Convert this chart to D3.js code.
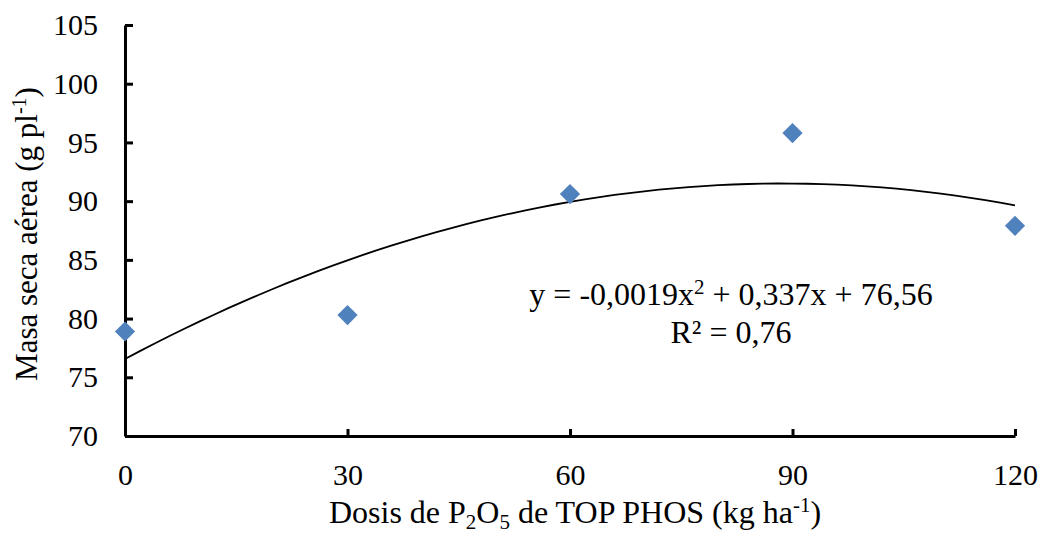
<!DOCTYPE html>
<html>
<head>
<meta charset="utf-8">
<script src="https://cdn.jsdelivr.net/npm/d3@7"></script>
</head>
<body style="margin:0">
<div id="chart"></div>
<script>
// data
const doses = [0, 30, 60, 90, 120];
const biomass = [78.9, 80.3, 90.6, 95.8, 87.9];
const xTicks = [0, 30, 60, 90, 120];
const yTicks = [70, 75, 80, 85, 90, 95, 100, 105];
// trendline coefficients as printed on the chart: a*x^2 + b*x + c
const trendCoef = [-0.0019, 0.337, 76.56];
const trendX = d3.range(0, 120.5, 2);

const serif = '"Liberation Serif"';
const width = 1045, height = 535;
const margin = { left: 125, right: 30, top: 25, bottom: 99 };

const svg = d3.select('#chart').append('svg')
    .attr('width', width)
    .attr('height', height)
    .style('font-family', serif);

const x = d3.scaleLinear().domain([0, 120]).range([margin.left, 1015]);
const y = d3.scaleLinear().domain([70, 105]).range([436, margin.top]);

// y axis
const yAxis = svg.append('g')
    .attr('transform', `translate(${margin.left},0)`)
    .call(d3.axisLeft(y).tickValues(yTicks).tickSize(-8).tickPadding(27).tickSizeOuter(0));
yAxis.select('.domain').attr('stroke-width', 3);
yAxis.selectAll('.tick line').attr('stroke-width', 3);

// x axis
const xAxis = svg.append('g')
    .attr('transform', `translate(0,436)`)
    .call(d3.axisBottom(x).tickValues(xTicks).tickSize(-7).tickPadding(28).tickSizeOuter(0));
xAxis.select('.domain').attr('stroke-width', 3);
xAxis.selectAll('.tick line').attr('stroke-width', 3);
svg.selectAll('.domain, .tick line').attr('stroke', '#000');
svg.selectAll('g').attr('font-family', null);
svg.selectAll('.tick text')
    .style('font-family', serif)
    .attr('fill', '#000')
    .attr('font-size', 30);

// trendline
const line = d3.line()
    .x(d => x(d))
    .y(d => y(trendCoef[0] * d * d + trendCoef[1] * d + trendCoef[2]));
svg.append('path')
    .datum(trendX)
    .attr('d', line)
    .attr('fill', 'none')
    .attr('stroke', '#000')
    .attr('stroke-width', 1.8);

// points
svg.append('g')
    .selectAll('path')
    .data(doses)
    .enter().append('path')
    .attr('d', d3.symbol().type(d3.symbolDiamond2).size(260))
    .attr('transform', (d, i) => `translate(${x(d)},${y(biomass[i])})`)
    .attr('fill', '#4F81BD');

// equation
const eq = svg.append('text')
    .style('font-family', serif)
    .attr('x', 731).attr('y', 305)
    .attr('text-anchor', 'middle')
    .attr('font-size', 32);
eq.append('tspan').text('y = -0,0019x');
eq.append('tspan').attr('dy', -11).attr('font-size', 21).text('2');
eq.append('tspan').attr('dy', 11).text(' + 0,337x + 76,56');

svg.append('text')
    .style('font-family', serif)
    .attr('x', 731).attr('y', 343)
    .attr('text-anchor', 'middle')
    .attr('font-size', 32)
    .text('R² = 0,76');

// x title
const xt = svg.append('text')
    .style('font-family', serif)
    .attr('x', 575).attr('y', 523)
    .attr('text-anchor', 'middle')
    .attr('font-size', 32);
xt.append('tspan').text('Dosis de P');
xt.append('tspan').attr('dy', 6).attr('font-size', 21).text('2');
xt.append('tspan').attr('dy', -6).text('O');
xt.append('tspan').attr('dy', 6).attr('font-size', 21).text('5');
xt.append('tspan').attr('dy', -6).text(' de TOP PHOS (kg ha');
xt.append('tspan').attr('dy', -11).attr('font-size', 21).text('-1');
xt.append('tspan').attr('dy', 11).text(')');

// y title
const yt = svg.append('text')
    .style('font-family', serif)
    .attr('transform', 'translate(37,234) rotate(-90)')
    .attr('text-anchor', 'middle')
    .attr('font-size', 31);
yt.append('tspan').text('Masa seca aérea (g pl');
yt.append('tspan').attr('dy', -11).attr('font-size', 20).text('-1');
yt.append('tspan').attr('dy', 11).text(')');
</script>
</body>
</html>
